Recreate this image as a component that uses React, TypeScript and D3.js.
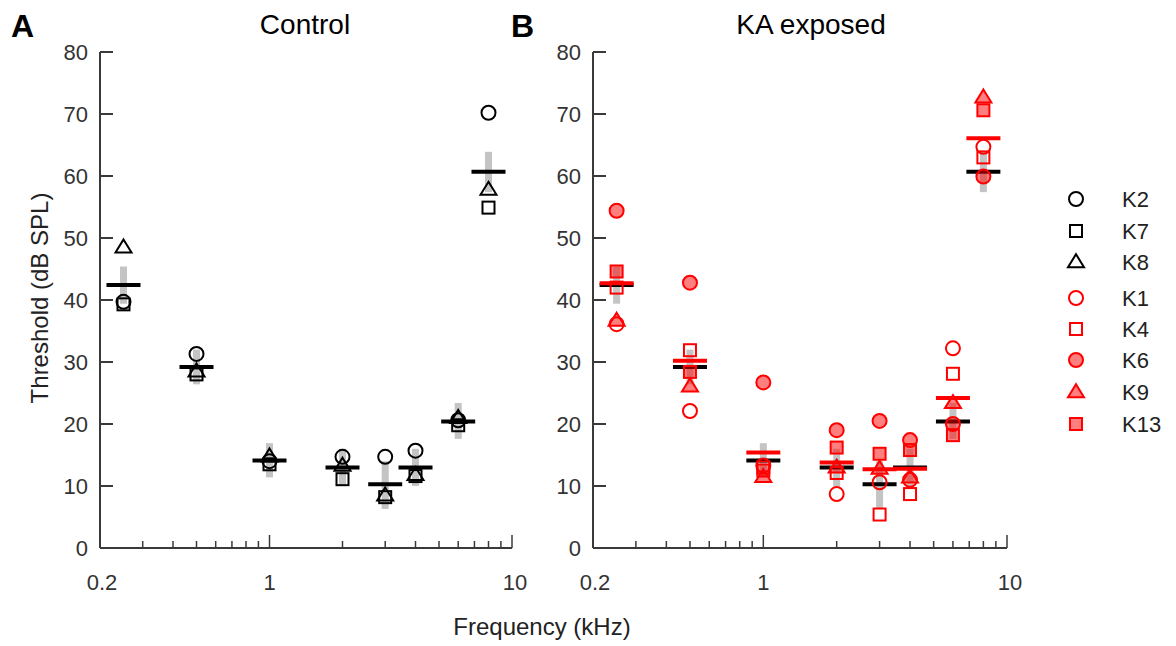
import React from "react";
import * as d3 from "d3";

const freqs = [0.25, 0.5, 1, 2, 3, 4, 6, 8];
// Control animals
const ctrlK2 = [39.7, 31.3, 14.0, 14.7, 14.7, 15.7, 20.6, 70.2];
const ctrlK7 = [39.3, 28.0, 13.5, 11.1, 8.2, 11.6, 19.8, 54.9];
const ctrlK8 = [48.5, 28.5, 14.8, 13.3, 8.5, 11.8, 21.0, 57.8];
const ctrlMean = [42.4, 29.2, 14.1, 13.0, 10.3, 13.0, 20.4, 60.7];
const ctrlLow = [39.4, 26.4, 11.4, 10.0, 6.3, 10.0, 17.6, 57.4];
const ctrlHigh = [45.4, 32.0, 16.9, 16.0, 14.0, 16.0, 23.4, 63.9];
// KA exposed animals
const kaK1 = [36.1, 22.1, 13.3, 8.7, 10.6, 11.0, 32.2, 64.7];
const kaK4 = [42.0, 31.9, 13.0, 12.1, 5.4, 8.7, 28.1, 63.0];
const kaK6 = [54.4, 42.8, 26.7, 19.0, 20.5, 17.4, 20.0, 59.9];
const kaK9 = [36.7, 26.1, 11.5, 13.0, 12.8, 11.4, 23.4, 72.7];
const kaK13 = [44.6, 28.4, 12.5, 16.2, 15.2, 15.8, 18.2, 70.6];
const kaMean = [42.7, 30.2, 15.4, 13.8, 12.7, 12.8, 24.2, 66.1];

const yTicks = [0, 10, 20, 30, 40, 50, 60, 70, 80];
const xMajor = [1, 10];
const xMinor = [0.3, 0.4, 0.5, 0.6, 0.7, 0.8, 0.9, 2, 3, 4, 5, 6, 7, 8, 9];
const xLabels = [0.2, 1, 10];

const FONT = "'Liberation Sans', Arial, Helvetica, sans-serif";
const RED = "#ff0000";
const RED_FILL = "rgba(255,0,0,0.5)";
const AXIS = "#3a3a3a";

type Shape = "circle" | "square" | "triangle";

function Marker({ shape, x, y, stroke, fill }: { shape: Shape; x: number; y: number; stroke: string; fill: string }) {
  if (shape === "circle") return <circle cx={x} cy={y} r={7} fill={fill} stroke={stroke} strokeWidth={2} />;
  if (shape === "square") return <rect x={x - 6} y={y - 6} width={12} height={12} fill={fill} stroke={stroke} strokeWidth={2} />;
  const h = 13;
  const w = 16;
  const p = `M${x},${y - h * 0.6}L${x + w / 2},${y + h * 0.4}L${x - w / 2},${y + h * 0.4}Z`;
  return <path d={p} fill={fill} stroke={stroke} strokeWidth={2} strokeLinejoin="miter" />;
}

const yScale = d3.scaleLinear().domain([0, 80]).range([548, 52]);

function Axes({ x, y }: { x: d3.ScaleLogarithmic<number, number>; y: d3.ScaleLinear<number, number> }) {
  const [x0, x1] = x.range();
  const [yb, yt] = y.range();
  return (
    <g>
      <line x1={x0} x2={x0} y1={yt} y2={yb} stroke={AXIS} strokeWidth={2} />
      <line x1={x0} x2={x1} y1={yb} y2={yb} stroke={AXIS} strokeWidth={2} />
      {yTicks.map((t) => (
        <g key={"y" + t}>
          <line x1={x0} x2={x0 + 13} y1={y(t)} y2={y(t)} stroke={AXIS} strokeWidth={2} />
          <text x={x0 - 12} y={y(t)} dy="0.36em" textAnchor="end" fontSize={22} fill="#333" fontFamily={FONT}>{t}</text>
        </g>
      ))}
      {xMajor.map((t) => (
        <line key={"M" + t} x1={x(t)} x2={x(t)} y1={yb} y2={yb - 13} stroke={AXIS} strokeWidth={1.5} />
      ))}
      {xMinor.map((t) => (
        <line key={"m" + t} x1={x(t)} x2={x(t)} y1={yb} y2={yb - 7} stroke={AXIS} strokeWidth={1.5} />
      ))}
      {xLabels.map((t) => (
        <text key={"l" + t} x={x(t) + (t === 0.2 ? 2 : t === 10 ? 3 : 0)} y={590} textAnchor="middle" fontSize={22} fill="#333" fontFamily={FONT}>{t}</text>
      ))}
    </g>
  );
}

function GrayBars({ x }: { x: d3.ScaleLogarithmic<number, number> }) {
  return (
    <g>
      {freqs.map((f, i) => (
        <rect key={f} x={x(f) - 3.5} width={7} y={yScale(ctrlHigh[i])} height={yScale(ctrlLow[i]) - yScale(ctrlHigh[i])} fill="#c4c4c4" />
      ))}
    </g>
  );
}

function MeanLines({ x, values, color }: { x: d3.ScaleLogarithmic<number, number>; values: number[]; color: string }) {
  return (
    <g>
      {freqs.map((f, i) => (
        <line key={f} x1={x(f) - 17} x2={x(f) + 17} y1={yScale(values[i])} y2={yScale(values[i])} stroke={color} strokeWidth={4} />
      ))}
    </g>
  );
}

const ctrlSeries: { name: string; shape: Shape; values: number[] }[] = [
  { name: "K2", shape: "circle", values: ctrlK2 },
  { name: "K7", shape: "square", values: ctrlK7 },
  { name: "K8", shape: "triangle", values: ctrlK8 },
];
const kaSeries: { name: string; shape: Shape; values: number[]; filled: boolean }[] = [
  { name: "K1", shape: "circle", values: kaK1, filled: false },
  { name: "K4", shape: "square", values: kaK4, filled: false },
  { name: "K6", shape: "circle", values: kaK6, filled: true },
  { name: "K9", shape: "triangle", values: kaK9, filled: true },
  { name: "K13", shape: "square", values: kaK13, filled: true },
];

export default function App() {
  const xA = d3.scaleLog().domain([0.2, 10]).range([100, 512]);
  const xB = d3.scaleLog().domain([0.2, 10]).range([593, 1007]);
  const legendY = [199, 231, 262, 298, 329, 360, 392, 424];
  const legendItems = [
    ...ctrlSeries.map((s) => ({ name: s.name, shape: s.shape, stroke: "#000", fill: "none" })),
    ...kaSeries.map((s) => ({ name: s.name, shape: s.shape, stroke: RED, fill: s.filled ? RED_FILL : "none" })),
  ];
  return (
    <svg width={1176} height={646} style={{ position: "absolute", left: 0, top: 0, background: "#fff" }}>
      <rect width={1176} height={646} fill="#fff" />
      {/* Titles and panel letters */}
      <text x={11} y={37} fontSize={32} fontWeight="bold" fontFamily={FONT} fill="#000">A</text>
      <text x={511} y={37} fontSize={32} fontWeight="bold" fontFamily={FONT} fill="#000">B</text>
      <text x={305} y={34} textAnchor="middle" fontSize={28} fontFamily={FONT} fill="#000">Control</text>
      <text x={811} y={34} textAnchor="middle" fontSize={28} fontFamily={FONT} fill="#000">KA exposed</text>
      <text transform="translate(48,298) rotate(-90)" textAnchor="middle" fontSize={24} fontFamily={FONT} fill="#222">Threshold (dB SPL)</text>
      <text x={542} y={635} textAnchor="middle" fontSize={24} fontFamily={FONT} fill="#222">Frequency (kHz)</text>

      {/* Panel A */}
      <Axes x={xA} y={yScale} />
      <GrayBars x={xA} />
      {ctrlSeries.map((s) => (
        <g key={s.name}>
          {freqs.map((f, i) => (
            <Marker key={f} shape={s.shape} x={xA(f)} y={yScale(s.values[i])} stroke="#000" fill="none" />
          ))}
        </g>
      ))}
      <MeanLines x={xA} values={ctrlMean} color="#000" />

      {/* Panel B */}
      <Axes x={xB} y={yScale} />
      <GrayBars x={xB} />
      <MeanLines x={xB} values={ctrlMean} color="#000" />
      {kaSeries.map((s) => (
        <g key={s.name}>
          {freqs.map((f, i) => (
            <Marker key={f} shape={s.shape} x={xB(f)} y={yScale(s.values[i])} stroke={RED} fill={s.filled ? RED_FILL : "none"} />
          ))}
        </g>
      ))}
      <MeanLines x={xB} values={kaMean} color={RED} />

      {/* Legend */}
      {legendItems.map((it, i) => (
        <g key={it.name}>
          <Marker shape={it.shape} x={1076} y={legendY[i]} stroke={it.stroke} fill={it.fill} />
          <text x={1122} y={legendY[i]} dy="0.36em" fontSize={22} fontFamily={FONT} fill="#222">{it.name}</text>
        </g>
      ))}
    </svg>
  );
}
